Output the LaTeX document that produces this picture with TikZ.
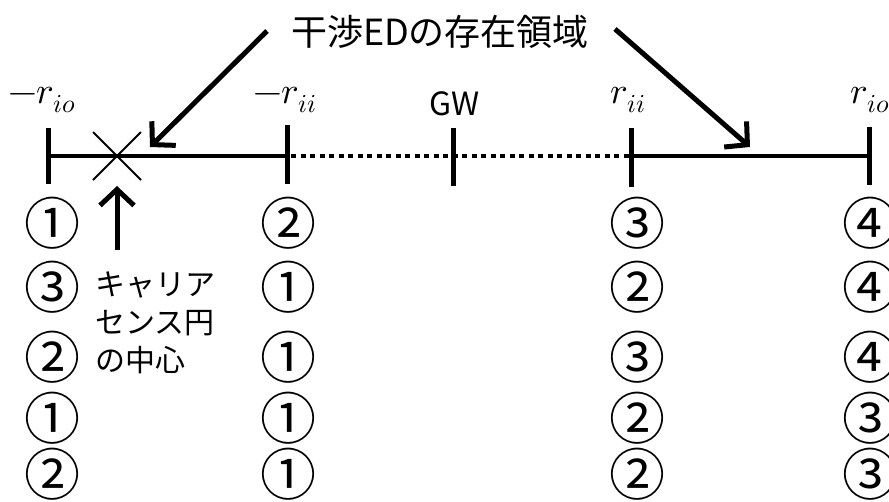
\documentclass[tikz,border=0pt]{standalone}
\usepackage{fontspec}
\usepackage{unicode-math}
\setmainfont{Noto Sans CJK JP}
\setmathfont{Latin Modern Math}
\newfontfamily\jp{Noto Sans CJK JP}
\usetikzlibrary{arrows.meta}
\tikzset{
  axisline/.style={line width=4pt},
  dotline/.style={line width=4pt, dash pattern=on 5pt off 4.5pt},
  tickmark/.style={line width=5pt},
  ptr/.style={line width=5pt, -{Straight Barb[length=16pt,width=34pt]}},
  cross/.style={line width=1.8pt},
  mlabel/.style={inner sep=0pt, font=\fontsize{37}{42}\selectfont},
  cnum/.style={inner sep=0pt, font=\jp\fontsize{56}{60}\selectfont},
  jtext/.style={inner sep=0pt, font=\jp\fontsize{34}{40}\selectfont},
}
\begin{document}
\begin{tikzpicture}[x=1pt,y=-1pt]
\useasboundingbox (0,0) rectangle (889,501);
% tick positions
\coordinate (t1) at (48,156);
\coordinate (t2) at (287,156);
\coordinate (t3) at (453,156);
\coordinate (t4) at (631,156);
\coordinate (t5) at (869,156);
% axis
\draw[axisline] (t1) -- (t2);
\draw[dotline] ([xshift=4pt]t2) -- ([xshift=-2pt]t4);
\draw[axisline] (t4) -- (t5);
% ticks
\draw[tickmark] (48,128) -- (48,184);
\draw[tickmark] (287,125) -- (287,184);
\draw[tickmark] (453,128) -- (453,186);
\draw[tickmark] (631,128) -- (631,187);
\draw[tickmark] (869,127) -- (869,185);
% labels
\node[mlabel] (lrio) at (42,100) {$-r_{io}$};
\node[mlabel] (lrii) at (285,100) {$-r_{ii}$};
\node[inner sep=0pt, font=\jp\fontsize{32}{36}\selectfont] (lgw) at (455,104) {GW};
\node[mlabel] (rii) at (628,100) {$r_{ii}$};
\node[mlabel] (rio) at (870,100) {$r_{io}$};
% title
\node[jtext, font=\jp\fontsize{36}{40}\selectfont] (title) at (440,32) {干渉EDの存在領域};
% cross
\coordinate (cc) at (117,156);
\draw[cross] (93,132) -- (141,180);
\draw[cross] (141,132) -- (93,180);
% arrows
\coordinate (a1s) at (267,31);
\coordinate (a1e) at (150,147);
\coordinate (a2s) at (615,29);
\coordinate (a2e) at (750,147);
\coordinate (a3s) at (117,250);
\coordinate (a3e) at (117,186);
\draw[ptr] (a1s) -- (a1e);
\draw[ptr] (a2s) -- (a2e);
\draw[ptr] (a3s) -- (a3e);
% caption
\node[inner sep=0pt, anchor=north west, align=left, font=\jp\fontsize{30}{38}\selectfont] (cap) at (95,272) {キャリア\\センス円\\の中心};
% circled numbers
\foreach \col/\x/\vals in {1/52/{①,③,②,①,②}, 2/288/{②,①,①,①,①}, 3/637/{③,②,③,②,②}, 4/870/{④,④,④,③,③}}{
  \foreach \v [count=\r] in \vals {
    \pgfmathsetmacro{\yy}{{223,287,357,418,474}[\r-1]}
    \node[cnum] (c\col-\r) at (\x,\yy) {\v};
  }
}
\end{tikzpicture}
\end{document}
